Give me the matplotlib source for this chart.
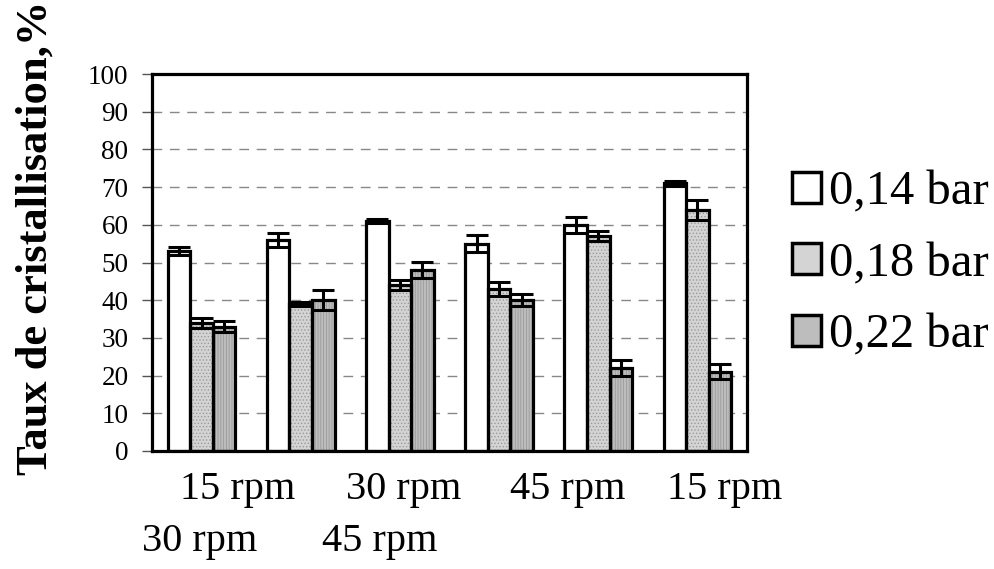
import matplotlib
matplotlib.use("Agg")
import matplotlib.pyplot as plt
import numpy as np

plt.rcParams['font.family'] = ['Liberation Serif', 'DejaVu Serif']
plt.rcParams['hatch.linewidth'] = 0.6

categories = ["15 rpm", "30 rpm", "45 rpm", "15 rpm", "30 rpm", "45 rpm"]
series_names = ["0,14 bar", "0,18 bar", "0,22 bar"]
v014 = [53, 56, 61, 55, 60, 71]
v018 = [34, 39, 44, 43, 57, 64]
v022 = [33, 40, 48, 40, 22, 21]
e014 = [1.0, 1.8, 0.5, 2.2, 2.2, 0.7]
e018 = [1.3, 0.5, 1.4, 1.9, 1.3, 2.6]
e022 = [1.4, 2.7, 2.1, 1.6, 2.1, 2.0]
yticks = [0, 10, 20, 30, 40, 50, 60, 70, 80, 90, 100]

values = [v014, v018, v022]
errors = [e014, e018, e022]
faces = ['white', '#d4d4d4', '#bdbdbd']
hatchcol = ['white', '#9a9a9a', '#9a9a9a']
hatches = [None, '.....', '||||||']

fig = plt.figure(figsize=(9.95, 5.69), dpi=100)
ax = fig.add_axes([152/995, 1-451/569, 595/995, 377/569])

x = np.arange(len(categories))
w = 0.227
for i, (vals, errs) in enumerate(zip(values, errors)):
    pos = x + (i - 1) * w
    ax.bar(pos, vals, w, color=faces[i], edgecolor=hatchcol[i], hatch=hatches[i],
           linewidth=0, zorder=2)
    ax.bar(pos, vals, w, fill=False, edgecolor='black', linewidth=2.3, zorder=3,
           label=series_names[i])
    ax.errorbar(pos, vals, yerr=errs, fmt='none', ecolor='black', elinewidth=2.2,
                capsize=8, capthick=2.2, zorder=4)

ax.set_xlim(-0.5, len(categories) - 0.5)
ax.set_ylim(0, 100)
ax.set_yticks(yticks)
ax.set_yticklabels([str(t) for t in yticks], fontsize=19.5)
ax.tick_params(axis='y', direction='out', length=7, width=1, color='#555555', pad=10)
ax.set_xticks(x)
ax.set_xticklabels([''] * len(categories))
ax.tick_params(axis='x', length=0)
ax.yaxis.grid(True, linestyle=(0, (7, 5.5)), color='#888888', linewidth=1, zorder=0)
ax.set_axisbelow(True)
for s in ax.spines.values():
    s.set_linewidth(2.3)
    s.set_color('black')

# staggered category labels (as rendered in the original chart)
label_pos = [(0.1445, 0), (0.0807, 1), (0.4235, 0), (0.383, 1), (0.699, 0), (0.963, 0)]
label_text = ["15 rpm", "30 rpm", "30 rpm", "45 rpm", "45 rpm", "15 rpm"]
rows_y = [1 - 490/569, 1 - 541/569]
for (xa, row), t in zip(label_pos, label_text):
    fig.text(152/995 + xa * 595/995, rows_y[row], t, fontsize=29,
             ha='center', va='center')

fig.text(36/995, 1 - 238/569, "Taux de cristallisation,%", fontsize=32,
         fontweight='bold', rotation=90, ha='center', va='center')

leg = fig.legend(loc='center left', bbox_to_anchor=(768/995, 1 - 264/569),
                 frameon=False, fontsize=35, handlelength=0.6, handleheight=0.6,
                 handletextpad=0.15, labelspacing=0.56, borderpad=0)
for h in leg.legend_handles:
    h.set_linewidth(2.5)
for h, fc in zip(leg.legend_handles, faces):
    h.set_fill(True)
    h.set_facecolor(fc)

fig.savefig("out.png", dpi=100)
